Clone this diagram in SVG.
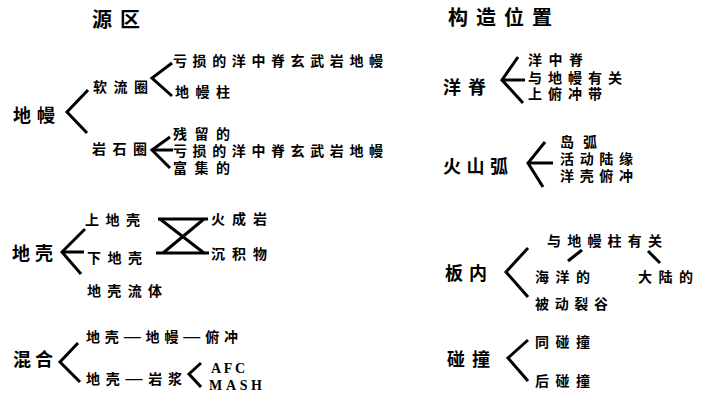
<svg xmlns="http://www.w3.org/2000/svg" width="703" height="393" viewBox="0 0 703 393">
<style>
text{font-family:"Noto Sans CJK SC","Noto Sans",sans-serif;font-weight:700;fill:#000;}
.t{font-size:20px;}
.m{font-size:18px;}
.s{font-size:14px;}
.r{font-family:"Liberation Serif",serif;font-size:14px;}
.d{font-family:"Liberation Sans",sans-serif;font-size:17px;font-weight:400;}
.ln{fill:none;stroke:#000;stroke-width:3;stroke-linejoin:miter;}
</style>
<rect width="703" height="393" fill="#fff"/>
<g id="connectors">
<polyline class="ln" points="88,90 67,112 87,133"/>
<polyline class="ln" points="172,63 152,78 172,96"/>
<polyline class="ln" points="170,137 152,150 170,168"/>
<line class="ln" x1="152" y1="150" x2="173" y2="150"/>
<polyline class="ln" points="85,229 62,252 81,274"/>
<line class="ln" x1="62" y1="252" x2="84" y2="252"/>
<line class="ln" x1="158" y1="219" x2="208" y2="219"/>
<line class="ln" x1="156" y1="253" x2="209" y2="253"/>
<line class="ln" x1="160" y1="219" x2="204" y2="253"/>
<line class="ln" x1="163" y1="253" x2="204" y2="219"/>
<polyline class="ln" points="78,343 60,362 80,382"/>
<polyline class="ln" points="201,363 189,374 201,387"/>
<polyline class="ln" points="518,57 502,80 523,103"/>
<line class="ln" x1="502" y1="80" x2="525" y2="80"/>
<polyline class="ln" points="545,142 528,163 543,187"/>
<line class="ln" x1="528" y1="163" x2="553" y2="163"/>
<polyline class="ln" points="528,248 506,272 528,297"/>
<line class="ln" x1="582" y1="250" x2="568" y2="261"/>
<line class="ln" x1="648" y1="251" x2="660" y2="263"/>
<polyline class="ln" points="528,340 508,358 528,381"/>
</g>
<g id="title-source"><text class="t" x="92" y="27" textLength="48" lengthAdjust="spacing">源区</text></g>
<g id="title-tectonic"><text class="t" x="448" y="25" textLength="104" lengthAdjust="spacing">构造位置</text></g>
<g id="mantle"><text class="m" x="13" y="122" textLength="42" lengthAdjust="spacing">地幔</text></g>
<g id="asthenosphere"><text class="s" x="93" y="92" textLength="55" lengthAdjust="spacing">软流圈</text></g>
<g id="depleted-morb-1"><text class="s" x="173" y="66" textLength="210" lengthAdjust="spacing">亏损的洋中脊玄武岩地幔</text></g>
<g id="plume"><text class="s" x="175" y="97" textLength="55" lengthAdjust="spacing">地幔柱</text></g>
<g id="lithosphere"><text class="s" x="92" y="154" textLength="55" lengthAdjust="spacing">岩石圈</text></g>
<g id="residual"><text class="s" x="173" y="139" textLength="57" lengthAdjust="spacing">残留的</text></g>
<g id="depleted-morb-2"><text class="s" x="173" y="156" textLength="210" lengthAdjust="spacing">亏损的洋中脊玄武岩地幔</text></g>
<g id="enriched"><text class="s" x="173" y="173" textLength="57" lengthAdjust="spacing">富集的</text></g>
<g id="crust"><text class="m" x="12" y="260" textLength="41" lengthAdjust="spacing">地壳</text></g>
<g id="upper-crust"><text class="s" x="85" y="225" textLength="55" lengthAdjust="spacing">上地壳</text></g>
<g id="lower-crust"><text class="s" x="87" y="263" textLength="55" lengthAdjust="spacing">下地壳</text></g>
<g id="crust-fluid"><text class="s" x="87" y="296" textLength="75" lengthAdjust="spacing">地壳流体</text></g>
<g id="igneous"><text class="s" x="211" y="224" textLength="56" lengthAdjust="spacing">火成岩</text></g>
<g id="sediment"><text class="s" x="211" y="259" textLength="56" lengthAdjust="spacing">沉积物</text></g>
<g id="mixing"><text class="m" x="13" y="366" textLength="40" lengthAdjust="spacing">混合</text></g>
<g id="ccm"><text class="s" x="86" y="342" textLength="152" lengthAdjust="spacing">地壳<tspan class="d">—</tspan>地幔<tspan class="d">—</tspan>俯冲</text></g>
<g id="crust-magma"><text class="s" x="86" y="384" textLength="96" lengthAdjust="spacing">地壳<tspan class="d">—</tspan>岩浆</text></g>
<g id="afc"><text class="r" x="211" y="373" textLength="34" lengthAdjust="spacing">AFC</text></g>
<g id="mash"><text class="r" x="209" y="390" textLength="53" lengthAdjust="spacing">MASH</text></g>
<g id="ridge"><text class="m" x="443" y="94" textLength="43" lengthAdjust="spacing">洋脊</text></g>
<g id="mor"><text class="s" x="528" y="65" textLength="55" lengthAdjust="spacing">洋中脊</text></g>
<g id="mantle-related"><text class="s" x="528" y="83" textLength="94" lengthAdjust="spacing">与地幔有关</text></g>
<g id="supra-subduction"><text class="s" x="528" y="99" textLength="74" lengthAdjust="spacing">上俯冲带</text></g>
<g id="arc"><text class="m" x="443" y="173" textLength="65" lengthAdjust="spacing">火山弧</text></g>
<g id="island-arc"><text class="s" x="560" y="147" textLength="37" lengthAdjust="spacing">岛弧</text></g>
<g id="active-margin"><text class="s" x="560" y="164" textLength="73" lengthAdjust="spacing">活动陆缘</text></g>
<g id="oceanic-subduction"><text class="s" x="560" y="181" textLength="73" lengthAdjust="spacing">洋壳俯冲</text></g>
<g id="intraplate"><text class="m" x="445" y="280" textLength="42" lengthAdjust="spacing">板内</text></g>
<g id="plume-related"><text class="s" x="547" y="246" textLength="115" lengthAdjust="spacing">与地幔柱有关</text></g>
<g id="oceanic"><text class="s" x="535" y="282" textLength="55" lengthAdjust="spacing">海洋的</text></g>
<g id="continental"><text class="s" x="638" y="282" textLength="55" lengthAdjust="spacing">大陆的</text></g>
<g id="passive-rift"><text class="s" x="535" y="309" textLength="73" lengthAdjust="spacing">被动裂谷</text></g>
<g id="collision"><text class="m" x="447" y="366" textLength="43" lengthAdjust="spacing">碰撞</text></g>
<g id="syn-collision"><text class="s" x="535" y="347" textLength="55" lengthAdjust="spacing">同碰撞</text></g>
<g id="post-collision"><text class="s" x="535" y="386" textLength="55" lengthAdjust="spacing">后碰撞</text></g>
</svg>
